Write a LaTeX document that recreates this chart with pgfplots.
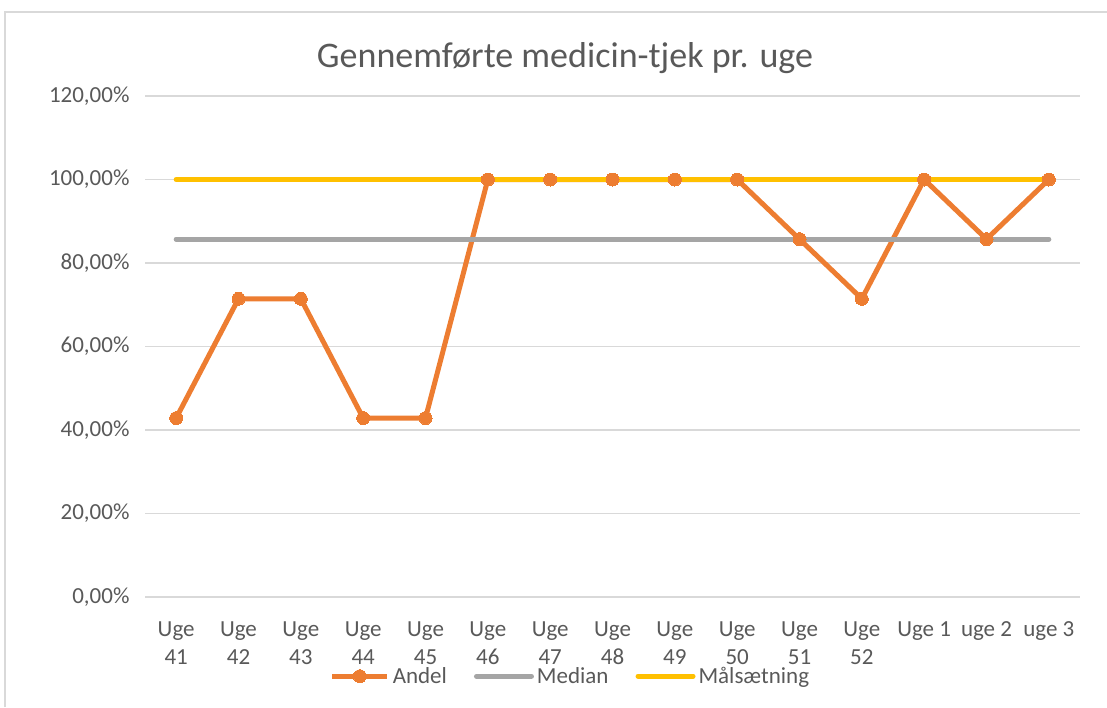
\documentclass[border=0pt]{standalone}
\usepackage{pgfplots}
\pgfplotsset{compat=1.18}
\usepackage{fontspec}
\setmainfont{Carlito}
\definecolor{andel}{HTML}{ED7D31}
\definecolor{median}{HTML}{A5A5A5}
\definecolor{maal}{HTML}{FFC000}
\definecolor{gridc}{HTML}{D9D9D9}
\definecolor{txt}{HTML}{595959}
\definecolor{frame}{HTML}{D9D9D9}
\begin{document}
\begin{tikzpicture}[x=1pt,y=1pt]
\path[use as bounding box] (0,-707) rectangle (1107,0);
\draw[frame,line width=1.5pt] (5,-707) -- (5,-12) -- (1107,-12);
\node[txt,font=\fontsize{36}{43}\selectfont] at (565,-58) {Gennemførte medicin-tjek pr. uge};
\begin{axis}[
  at={(145pt,-597pt)}, anchor=south west,
  scale only axis, width=935pt, height=501pt,
  xmin=-0.5, xmax=14.5, ymin=0, ymax=120,
  xtick={0,...,14},
  xticklabels={{Uge\\41},{Uge\\42},{Uge\\43},{Uge\\44},{Uge\\45},{Uge\\46},{Uge\\47},{Uge\\48},{Uge\\49},{Uge\\50},{Uge\\51},{Uge\\52},{Uge 1},{uge 2},{uge 3}},
  ytick={0,20,...,120},
  yticklabels={{0,00\%},{20,00\%},{40,00\%},{60,00\%},{80,00\%},{100,00\%},{120,00\%}},
  /pgf/number format/assume math mode=true,
  major tick length=0pt,
  axis line style={draw=none},
  ymajorgrids, grid style={gridc,line width=1.5pt},
  tick label style={txt,font=\fontsize{23}{28}\selectfont},
  xticklabel style={align=center, anchor=north, yshift=-21pt},
  yticklabel style={anchor=east, xshift=-12pt},
  legend style={at={(0.4545,-0.158)}, anchor=center, draw=none, fill=none,
    legend columns=3, font=\fontsize{23}{28}\selectfont, text=txt,
    nodes={inner sep=1pt},
    /tikz/every odd column/.append style={column sep=2pt},
    /tikz/every even column/.append style={column sep=26pt},
    inner sep=0pt},
  legend image code/.code={\draw[#1,mark repeat=2,mark phase=2] plot coordinates {(0pt,0pt) (27.5pt,0pt) (55pt,0pt)};},
  clip=false,
]
\addplot[andel, line width=5pt, line join=round, mark=*, mark size=6.5pt, mark options={solid,fill=andel,draw=andel,line width=0pt}] coordinates {
(0,42.86) (1,71.43) (2,71.43) (3,42.86) (4,42.86) (5,100) (6,100) (7,100) (8,100) (9,100) (10,85.71) (11,71.43) (12,100) (13,85.71) (14,100)};
\addlegendentry{Andel}
\addplot[median, line width=5pt, line cap=round] coordinates {
(0,85.71) (1,85.71) (2,85.71) (3,85.71) (4,85.71) (5,85.71) (6,85.71) (7,85.71) (8,85.71) (9,85.71) (10,85.71) (11,85.71) (12,85.71) (13,85.71) (14,85.71)};
\addlegendentry{Median}
\addplot[maal, line width=5pt, line cap=round] coordinates {
(0,100) (1,100) (2,100) (3,100) (4,100) (5,100) (6,100) (7,100) (8,100) (9,100) (10,100) (11,100) (12,100) (13,100) (14,100)};
\addlegendentry{Målsætning}
\end{axis}
\end{tikzpicture}
\end{document}
